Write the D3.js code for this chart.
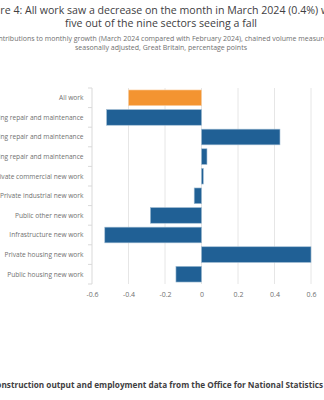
<!DOCTYPE html>
<html>
<head>
<meta charset="utf-8">
<script src="https://cdn.jsdelivr.net/npm/d3@7"></script>
<style>
  html, body { margin: 0; padding: 0; background: #fff; }
  svg { display: block; font-family: "Open Sans", sans-serif; }
</style>
</head>
<body>
<svg id="chart" width="324" height="400"></svg>
<script>
const categories = [
  "All work",
  "Non-housing repair and maintenance",
  "Private housing repair and maintenance",
  "Public housing repair and maintenance",
  "Private commercial new work",
  "Private industrial new work",
  "Public other new work",
  "Infrastructure new work",
  "Private housing new work",
  "Public housing new work"
];
const values = [-0.40, -0.52, 0.43, 0.03, 0.01, -0.04, -0.28, -0.53, 0.60, -0.14];
const xTicks = [-0.6, -0.4, -0.2, 0, 0.2, 0.4, 0.6];
const titleLines = [
  "Figure 4: All work saw a decrease on the month in March 2024 (0.4%) with",
  "five out of the nine sectors seeing a fall"
];
const subtitleLines = [
  "Contributions to monthly growth (March 2024 compared with February 2024), chained volume measures,",
  "seasonally adjusted, Great Britain, percentage points"
];
const source = "Source: Construction output and employment data from the Office for National Statistics";

const svg = d3.select("#chart");
const margin = { left: 92, right: 13, top: 88, bottom: 116 };
const W = 324, H = 400;

const x = d3.scaleLinear().domain([-0.6, 0.6]).range([margin.left, W - margin.right]);
const y = d3.scaleBand().domain(categories).range([margin.top, H - margin.bottom]).paddingInner(0.2).paddingOuter(0.1);

// titles
const cx = 161;
svg.append("g").selectAll("text").data(titleLines).join("text")
  .attr("x", cx).attr("y", (d, i) => 14 + i * 13)
  .attr("text-anchor", "middle").attr("font-size", 10.6).attr("fill", "#414042")
  .text(d => d);
svg.append("g").selectAll("text").data(subtitleLines).join("text")
  .attr("x", cx).attr("y", (d, i) => 40.5 + i * 9)
  .attr("text-anchor", "middle").attr("font-size", 7).attr("fill", "#707070")
  .text(d => d);

// gridlines
svg.append("g").selectAll("line").data(xTicks.filter(t => t !== -0.6)).join("line")
  .attr("x1", d => x(d)).attr("x2", d => x(d))
  .attr("y1", margin.top).attr("y2", H - margin.bottom)
  .attr("stroke", "#e6e6e6").attr("stroke-width", 1);

// bars
svg.append("g").selectAll("rect").data(categories).join("rect")
  .attr("x", (d, i) => x(Math.min(0, values[i])))
  .attr("width", (d, i) => Math.abs(x(values[i]) - x(0)))
  .attr("y", d => y(d))
  .attr("height", y.bandwidth())
  .attr("fill", (d, i) => i === 0 ? "#f39431" : "#206095")
  .attr("stroke", (d, i) => i === 0 ? "#fbd3a8" : "#9fbcd3")
  .attr("stroke-width", 0.6);

// x axis
const xAxis = d3.axisBottom(x).tickValues(xTicks).tickSize(0).tickPadding(8)
  .tickFormat(d => d === 0 ? "0" : d3.format(".1f")(d).replace("\u2212", "-"));
const gx = svg.append("g").attr("transform", `translate(0,${H - margin.bottom})`).call(xAxis);
gx.select(".domain").remove();
gx.selectAll("text").attr("font-size", 7).attr("fill", "#707070").attr("font-family", "Open Sans, sans-serif");

// y axis: line with ticks at band boundaries
const gy = svg.append("g");
gy.append("line").attr("x1", margin.left).attr("x2", margin.left)
  .attr("y1", margin.top).attr("y2", H - margin.bottom).attr("stroke", "#d9d9d9");
const bounds = d3.range(categories.length + 1).map(i => margin.top + i * (H - margin.top - margin.bottom) / categories.length);
gy.selectAll(".tk").data(bounds).join("line").attr("class", "tk")
  .attr("x1", margin.left - 4).attr("x2", margin.left)
  .attr("y1", d => d).attr("y2", d => d).attr("stroke", "#d9d9d9");
gy.selectAll("text").data(categories).join("text")
  .attr("x", margin.left - 8.5)
  .attr("y", d => y(d) + y.bandwidth() / 2)
  .attr("dy", "0.35em")
  .attr("text-anchor", "end").attr("font-size", 6.6).attr("fill", "#707070")
  .text(d => d);

// source
svg.append("text").attr("x", 323).attr("y", 388).attr("text-anchor", "end")
  .attr("font-size", 8.2).attr("font-weight", "bold").attr("fill", "#414042")
  .text(source);
</script>
</body>
</html>
